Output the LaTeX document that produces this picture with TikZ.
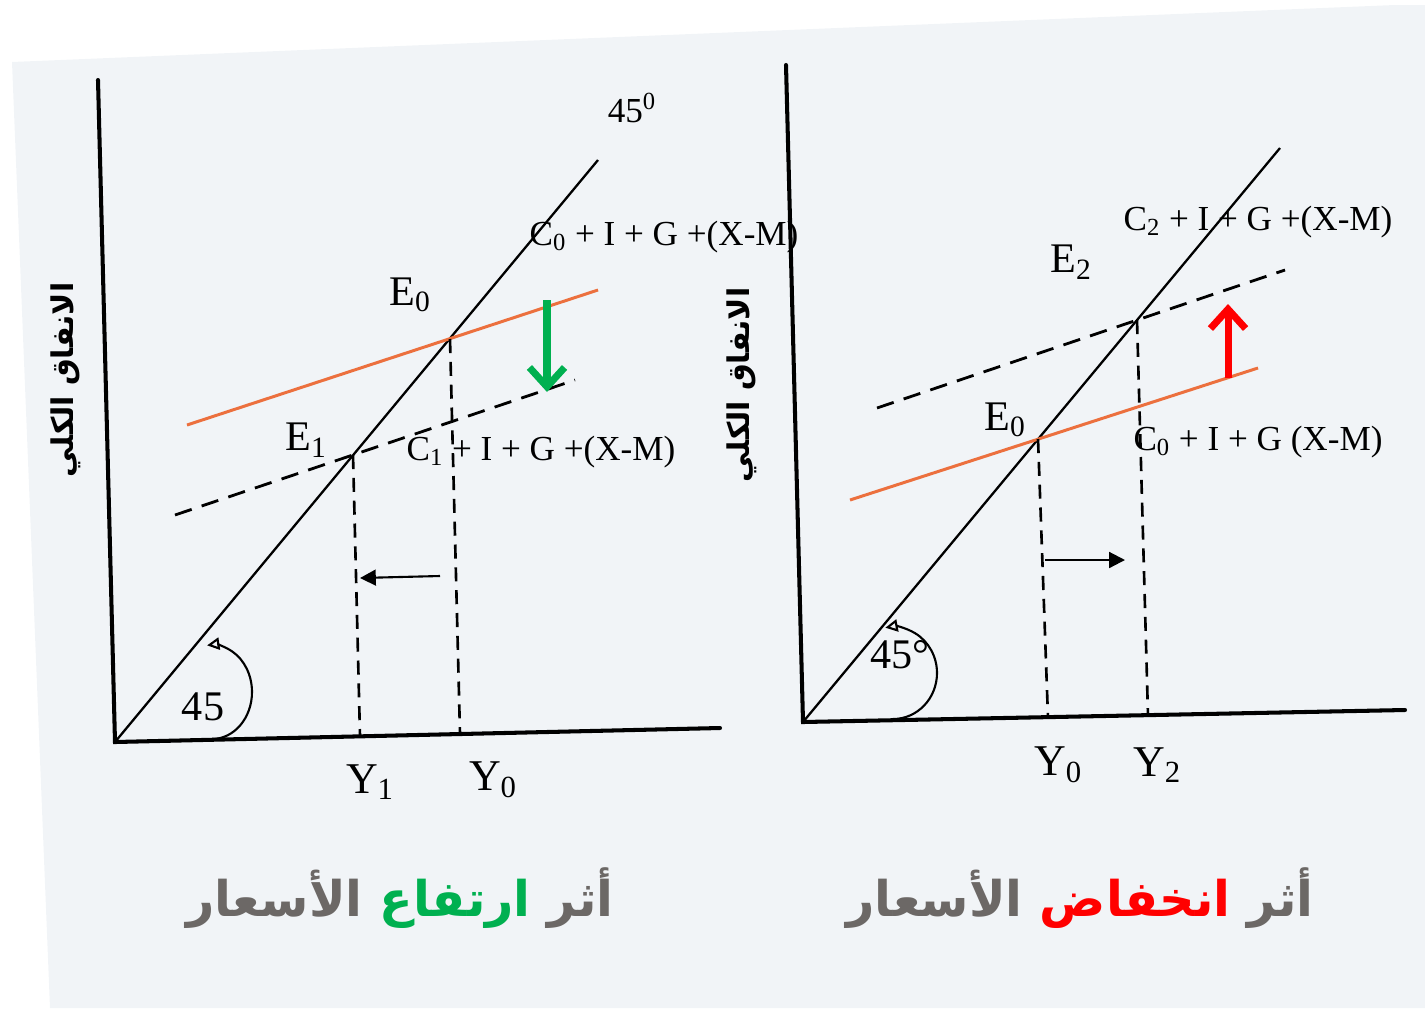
\documentclass[tikz,border=0pt]{standalone}
\usepackage{fontspec}
\setmainfont{Liberation Serif}
\newfontfamily\arabicfont[Script=Arabic]{DejaVu Sans}
\TeXXeTstate=1
\usetikzlibrary{arrows.meta, positioning}
\definecolor{paper}{RGB}{241,244,247}
\definecolor{aeorange}{RGB}{236,112,62}
\definecolor{capgray}{RGB}{108,104,102}
\definecolor{upgreen}{RGB}{0,176,80}
\definecolor{downred}{RGB}{255,0,0}
\newcommand{\arword}[2]{\textcolor{#1}{\beginR #2\endR}}
\tikzset{
  axisline/.style  = {line width=2.3pt, line cap=round},
  diagline/.style  = {line width=1.3pt},
  oldae/.style     = {line width=1.7pt, draw=aeorange},
  newae/.style     = {line width=1.6pt, dash pattern=on 10pt off 6pt},
  dropline/.style  = {line width=1.5pt, dash pattern=on 8pt off 5pt},
  moveArr/.style   = {-{Triangle[length=9pt,width=9pt]}, line width=1.2pt},
  bigArr/.style    = {-{Straight Barb[length=11pt,width=20pt,line width=4pt]}, line width=4pt},
  anglearc/.style  = {line width=1.2pt, -{Triangle[open,length=7pt,width=7pt]}},
  lbl/.style       = {font=\fontsize{20}{22}\selectfont, inner sep=1pt},
  elbl/.style      = {font=\fontsize{24}{26}\selectfont, inner sep=1pt},
  ylbl/.style      = {font=\fontsize{25}{27}\selectfont, inner sep=1pt},
  ytitle/.style    = {font=\arabicfont\bfseries\fontsize{17}{19}\selectfont, rotate=90, inner sep=1pt},
  caption/.style   = {font=\arabicfont\bfseries\fontsize{28}{31}\selectfont, inner sep=1pt}
}

\begin{document}
\begin{tikzpicture}[x=0.02cm, y=-0.02cm]
  \useasboundingbox (0,0) rectangle (1425,1008);
  \fill[paper] (12,62) -- (1395,5) -- (1425,5) -- (1425,1008) -- (50,1008) -- cycle;

  % ---- left panel: rising prices
  \coordinate (oL)    at (115,742);
  \coordinate (yTopL) at (98,80);
  \coordinate (xEndL) at (720,728);
  \coordinate (diagL) at (598,160);
  \coordinate (aeL1)  at (187,425);
  \coordinate (aeL2)  at (598,290);
  \coordinate (neL1)  at (175,515);
  \coordinate (neL2)  at (575,380);
  \coordinate (E0L)   at (450,339);
  \coordinate (E1L)   at (353,455);
  \coordinate (Y0L)   at (460,734);
  \coordinate (Y1L)   at (360,736);
  \coordinate (mvL1)  at (440,576);
  \coordinate (mvL2)  at (360,578);
  \coordinate (dnL1)  at (547,300);
  \coordinate (dnL2)  at (547,392);
  \coordinate (arcL)  at (212,739);

  \draw[axisline] (yTopL) -- (oL) -- (xEndL);
  \draw[diagline] (oL) -- (diagL);
  \draw[oldae] (aeL1) -- (aeL2);
  \draw[newae] (neL1) -- (neL2);
  \draw[dropline] (E0L) -- (Y0L);
  \draw[dropline] (E1L) -- (Y1L);
  \draw[moveArr] (mvL1) -- (mvL2);
  \draw[bigArr, upgreen] (dnL1) -- (dnL2);
  \draw[anglearc] (arcL) arc[start angle=90, end angle=-97, x radius=40, y radius=47];

  \node[lbl] (degL)  at (632,108) {45\textsuperscript{0}};
  \node[lbl] (c0L)   at (664,237) {C\textsubscript{0} + I + G +(X-M)};
  \node[elbl] (e0L)  at (410,295) {E\textsubscript{0}};
  \node[elbl] (e1L)  at (306,440) {E\textsubscript{1}};
  \node[lbl] (c1L)   at (541,452) {C\textsubscript{1} + I + G +(X-M)};
  \node[ylbl] (y1L)  at (370,782) {Y\textsubscript{1}};
  \node[ylbl] (y0L)  at (493,780) {Y\textsubscript{0}};
  \node[elbl] (a45L) at (203,707) {45};
  \node[ytitle] (vtL) at (66,380) {\beginR الانفاق الكلي\endR};
  \node[caption] (capL) at (400,898)
    {\arword{capgray}{الأسعار} \arword{upgreen}{ارتفاع} \arword{capgray}{أثر}};

  % ---- right panel: falling prices
  \coordinate (oR)    at (803,722);
  \coordinate (yTopR) at (786,65);
  \coordinate (xEndR) at (1405,710);
  \coordinate (diagR) at (1280,148);
  \coordinate (aeR1)  at (850,500);
  \coordinate (aeR2)  at (1258,368);
  \coordinate (neR1)  at (877,408);
  \coordinate (neR2)  at (1285,270);
  \coordinate (E0R)   at (1038,439);
  \coordinate (E2R)   at (1137,320);
  \coordinate (Y0R)   at (1048,718);
  \coordinate (Y2R)   at (1148,716);
  \coordinate (mvR1)  at (1045,560);
  \coordinate (mvR2)  at (1125,560);
  \coordinate (upR1)  at (1228,378);
  \coordinate (upR2)  at (1228,304);
  \coordinate (arcR)  at (893,719);

  \draw[axisline] (yTopR) -- (oR) -- (xEndR);
  \draw[diagline] (oR) -- (diagR);
  \draw[oldae] (aeR1) -- (aeR2);
  \draw[newae] (neR1) -- (neR2);
  \draw[dropline] (E0R) -- (Y0R);
  \draw[dropline] (E2R) -- (Y2R);
  \draw[moveArr] (mvR1) -- (mvR2);
  \draw[bigArr, downred] (upR1) -- (upR2);
  \draw[anglearc] (arcR) arc[start angle=90, end angle=-100, x radius=44, y radius=46];

  \node[lbl] (c2R)   at (1258,222) {C\textsubscript{2} + I + G +(X-M)};
  \node[elbl] (e2R)  at (1071,262) {E\textsubscript{2}};
  \node[elbl] (e0R)  at (1005,420) {E\textsubscript{0}};
  \node[lbl] (c0R)   at (1258,442) {C\textsubscript{0} + I + G (X-M)};
  \node[ylbl] (y0R)  at (1058,765) {Y\textsubscript{0}};
  \node[ylbl] (y2R)  at (1157,765) {Y\textsubscript{2}};
  \node[elbl] (a45R) at (900,655) {45°};
  \node[ytitle] (vtR) at (742,385) {\beginR الانفاق الكلي\endR};
  \node[caption] (capR) at (1080,898)
    {\arword{capgray}{الأسعار} \arword{downred}{انخفاض} \arword{capgray}{أثر}};
\end{tikzpicture}
\end{document}
